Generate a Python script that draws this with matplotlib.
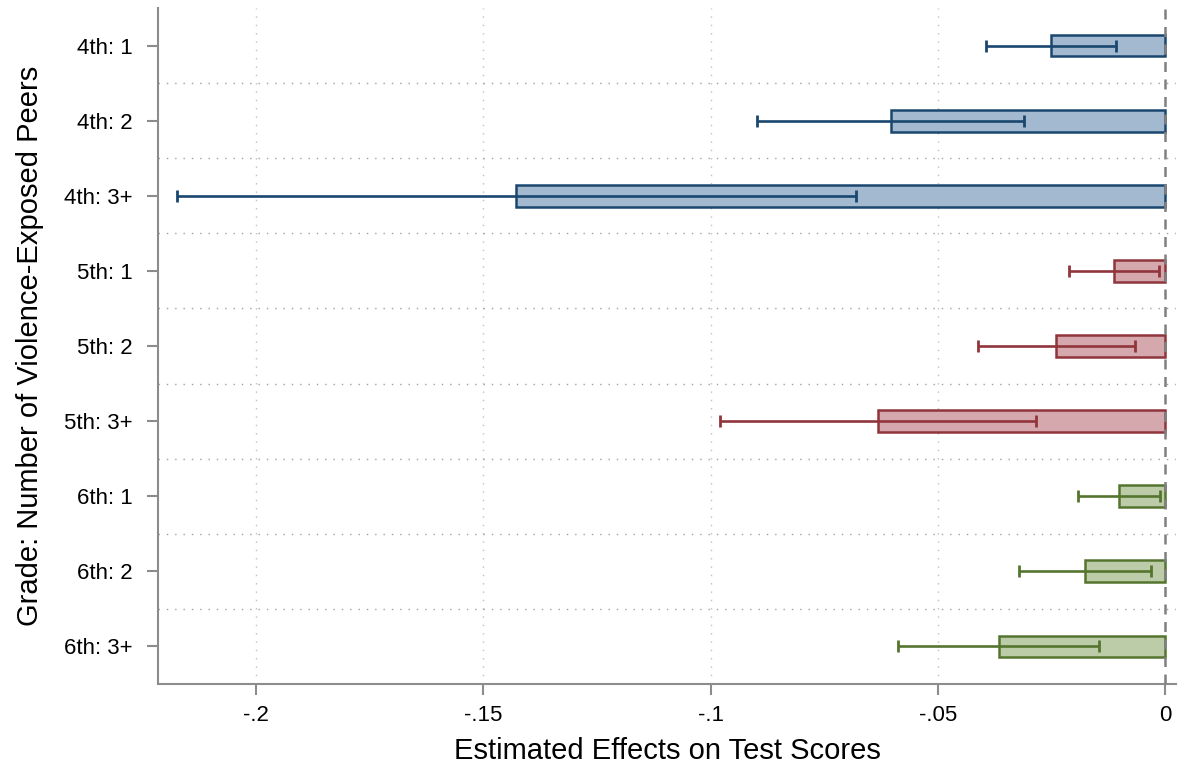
import numpy as np
import matplotlib
matplotlib.use("Agg")
import matplotlib.pyplot as plt

plt.rcParams['font.family'] = ['Liberation Sans', 'DejaVu Sans']

# ---------- data ---------- #
labels = ['4th: 1', '4th: 2', '4th: 3+',
          '5th: 1', '5th: 2', '5th: 3+',
          '6th: 1', '6th: 2', '6th: 3+']
effects = [-0.0252, -0.0604, -0.1427,
           -0.0113, -0.0240, -0.0632,
           -0.0103, -0.0176, -0.0367]
ci_half = [0.0143, 0.0293, 0.0746,
           0.0098, 0.0173, 0.0348,
           0.0090, 0.0145, 0.0221]
grade = ['4th'] * 3 + ['5th'] * 3 + ['6th'] * 3

edge_colors = {'4th': '#1a476f', '5th': '#90353b', '6th': '#55752f'}
fill_colors = {'4th': '#a3b9cf', '5th': '#d4a8ac', '6th': '#bccba8'}

xticks = [-0.2, -0.15, -0.1, -0.05, 0]
xticklabels = ['-.2', '-.15', '-.1', '-.05', '0']

# ---------- plot ---------- #
fig = plt.figure(figsize=(11.78, 7.64), dpi=100)
ax = fig.add_axes([0.1341, 0.1047, 0.8645, 0.8848])

y = np.arange(len(labels))
for i in range(len(labels)):
    g = grade[i]
    ax.barh(y[i], effects[i], height=0.29, color=fill_colors[g],
            edgecolor=edge_colors[g], linewidth=1.8, zorder=3)
    ax.errorbar(effects[i], y[i], xerr=ci_half[i], fmt='none',
                ecolor=edge_colors[g], elinewidth=1.9, capsize=4.5,
                capthick=2.0, zorder=4)

ax.axvline(0, color='#808080', linestyle=(0, (4, 3)), linewidth=1.8, zorder=5)

# gridlines
for x in xticks[:-1]:
    ax.axvline(x, color='#c0c0c0', linestyle=(0, (1, 5)), linewidth=1.0, zorder=1)
for k in range(len(labels) - 1):
    ax.axhline(k + 0.5, color='#a0a0a0', linestyle=(0, (1, 5)), linewidth=1.0, zorder=1)

ax.set_xlim(-0.2215, 0.0024)
ax.set_ylim(8.5, -0.5)
ax.set_yticks(y)
ax.set_yticklabels(labels)
ax.set_xticks(xticks)
ax.set_xticklabels(xticklabels)

for side in ['top', 'right']:
    ax.spines[side].set_visible(False)
for side in ['left', 'bottom']:
    ax.spines[side].set_color('#8c8c8c')
    ax.spines[side].set_linewidth(1.5)

ax.tick_params(axis='both', colors='#8c8c8c', labelcolor='black',
               labelsize=16, length=8, width=1.5)
ax.tick_params(axis='x', pad=7)
ax.tick_params(axis='y', pad=10)

ax.set_xlabel('Estimated Effects on Test Scores', fontsize=21, labelpad=8)
ax.set_ylabel('Grade: Number of Violence-Exposed Peers', fontsize=21, labelpad=15)

plt.savefig('out.png', dpi=100)
